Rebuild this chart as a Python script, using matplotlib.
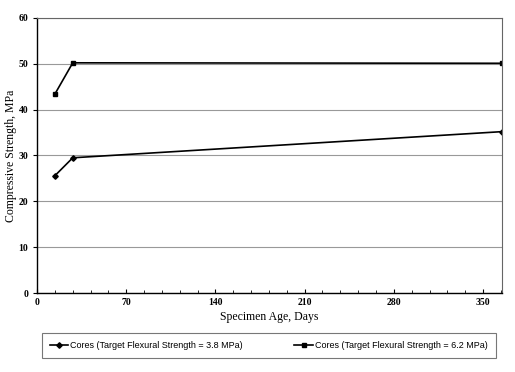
import numpy as np
import matplotlib.pyplot as plt
from matplotlib.ticker import MultipleLocator

# Specimen age (days) and compressive strength (MPa)
age_low = [14, 28, 365]
strength_low = [25.6, 29.5, 35.2]
age_high = [14, 28, 365]
strength_high = [43.4, 50.2, 50.1]

label_low = "Cores (Target Flexural Strength = 3.8 MPa)"
label_high = "Cores (Target Flexural Strength = 6.2 MPa)"

plt.rcParams['font.family'] = ['Liberation Serif', 'DejaVu Serif']

fig = plt.figure(figsize=(5.15, 3.72), dpi=100)
ax = fig.add_axes([0.072, 0.212, 0.903, 0.740])

ax.plot(age_low, strength_low, color='black', lw=1.2, marker='D', ms=2.8,
        label=label_low)
ax.plot(age_high, strength_high, color='black', lw=1.2, marker='s', ms=3.2,
        label=label_high)

ax.set_xlim(0, 365)
ax.set_ylim(0, 60)
ax.xaxis.set_major_locator(MultipleLocator(70))
ax.xaxis.set_minor_locator(MultipleLocator(14))
ax.yaxis.set_major_locator(MultipleLocator(10))
ax.grid(axis='y', color='#999999', lw=0.8)
ax.set_axisbelow(True)

for side in ['top', 'right']:
    ax.spines[side].set_color('#666666')
    ax.spines[side].set_linewidth(0.8)
for side in ['left', 'bottom']:
    ax.spines[side].set_linewidth(1.0)

ax.tick_params(axis='both', labelsize=7, direction='in', length=3, width=0.8)
ax.tick_params(axis='x', which='minor', direction='in', length=2, width=0.6)
ax.tick_params(axis='y', direction='out', length=3)
for lbl in ax.get_xticklabels() + ax.get_yticklabels():
    lbl.set_fontweight('bold')

ax.set_xlabel("Specimen Age, Days", fontsize=8.5, labelpad=3)
ax.set_ylabel("Compressive Strength, MPa", fontsize=8.5, labelpad=1)

leg = fig.legend(loc='center', bbox_to_anchor=(0.522, 0.071), ncol=2,
                 frameon=True, fancybox=False, shadow=False,
                 prop={'family': ['Liberation Sans', 'DejaVu Sans'], 'size': 6.5},
                 handlelength=2.0, columnspacing=5.7, borderpad=0.9,
                 handletextpad=0.3)
leg.get_frame().set_edgecolor('#555555')
leg.get_frame().set_linewidth(0.8)

fig.savefig('out.png', dpi=100)
